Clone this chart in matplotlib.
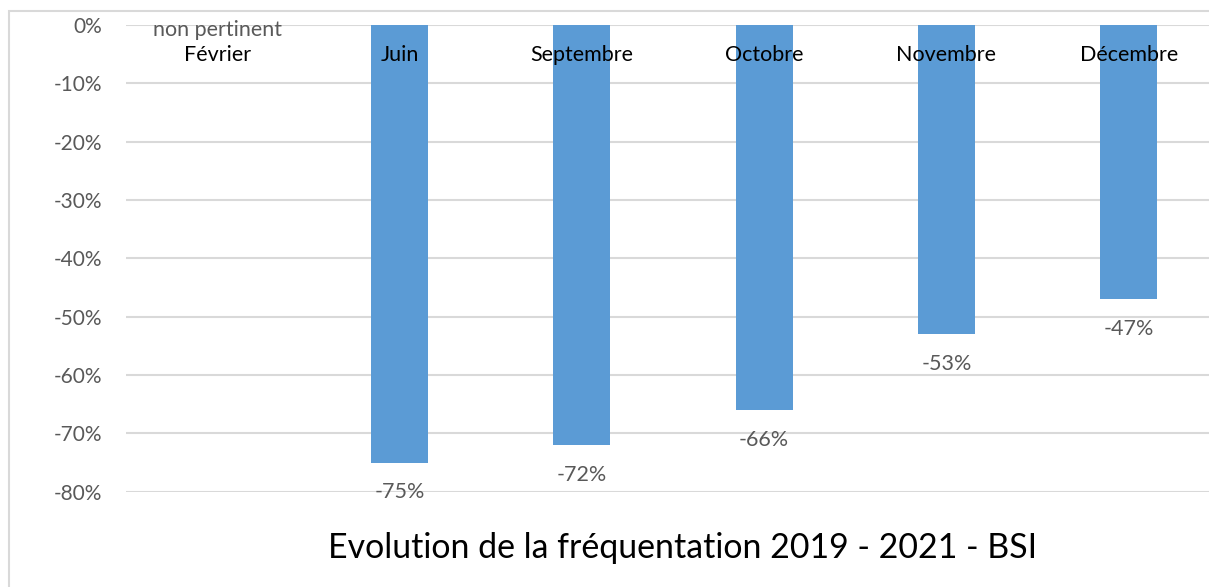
import matplotlib.pyplot as plt
from matplotlib.ticker import FuncFormatter, MultipleLocator
from matplotlib.patches import Rectangle

plt.rcParams['font.family'] = ['Lato', 'DejaVu Sans']

mois = ["Février", "Juin", "Septembre", "Octobre", "Novembre", "Décembre"]
evolution = [None, -0.75, -0.72, -0.66, -0.53, -0.47]
etiquettes = ["non pertinent", "-75%", "-72%", "-66%", "-53%", "-47%"]
titre = "Evolution de la fréquentation 2019 - 2021 - BSI"

W, H = 1209, 587
fig = plt.figure(figsize=(W / 100, H / 100), dpi=100)

# cadre gris autour du graphique (coupé à droite et en bas)
fig.patches.append(Rectangle((9 / W, -0.1), 1.2, 1 - 11 / H + 0.1,
                             transform=fig.transFigure, fill=False,
                             edgecolor="#D9D9D9", linewidth=1.5))

ax = fig.add_axes([126 / W, (H - 491.7) / H, 1094 / W, 466.7 / H])
for i, v in enumerate(evolution):
    if v is not None:
        ax.bar(i, v, width=0.313, color="#5B9BD5", zorder=2)
        ax.text(i, v - 0.051, etiquettes[i], ha="center", va="center",
                fontsize=15.5, color="#595959")
    else:
        ax.text(i, -0.0086, etiquettes[i], ha="center", va="center",
                fontsize=15.5, color="#595959", clip_on=False)
    ax.text(i, -0.051, mois[i], ha="center", va="center", fontsize=15.5,
            color="black", zorder=3)

ax.set_xlim(-0.5, len(mois) - 0.5)
ax.set_ylim(-0.8, 0)
ax.yaxis.set_major_locator(MultipleLocator(0.1))
ax.yaxis.set_major_formatter(FuncFormatter(lambda v, p: "%d%%" % round(v * 100)))
ax.grid(axis="y", color="#D9D9D9", linewidth=1.5, zorder=0)
ax.set_xticks([])
ax.tick_params(axis="y", length=0, pad=17, labelsize=15, labelcolor="#595959")
for s in ax.spines.values():
    s.set_visible(False)

fig.text(683 / W, 1 - 548 / H, titre, ha="center", va="center",
         fontsize=24.4, color="black")

fig.savefig("out.png", dpi=100)
